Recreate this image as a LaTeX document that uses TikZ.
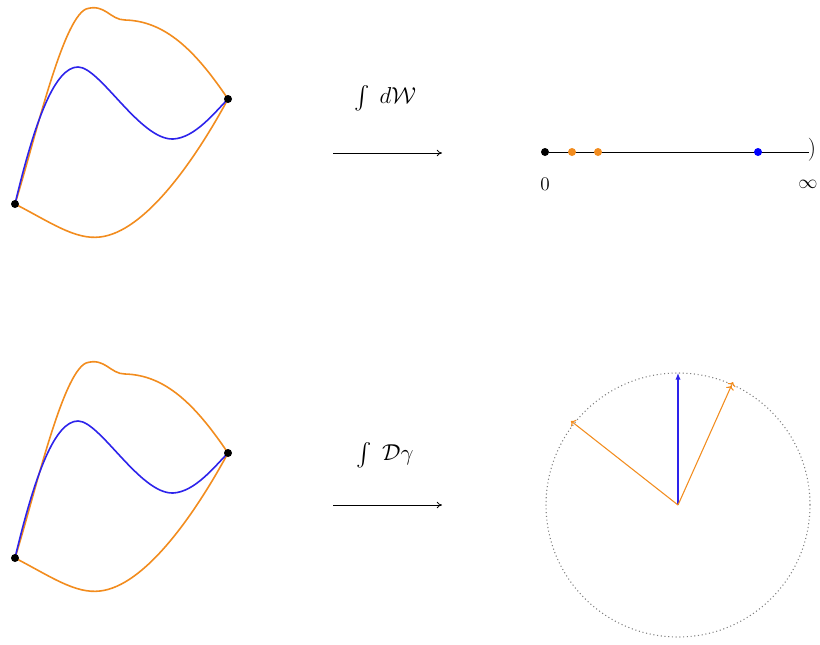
\documentclass[tikz,border=0pt]{standalone}
\usepackage{exscale}
\usetikzlibrary{arrows.meta}
\definecolor{orng}{RGB}{242,140,30}
\definecolor{blu}{RGB}{45,35,235}
\tikzset{
  opath/.style={orng, line width=1.2pt, line join=round},
  bpath/.style={blu, line width=1.2pt},
  dotn/.style={circle, fill=#1, inner sep=0pt, minimum size=6pt},
  maparrow/.style={-{To[length=4pt,width=5pt]}, line width=0.6pt},
  phasor/.style={line width=0.8pt},
  lbl/.style={font=\LARGE},
  nlbl/.style={font=\Large}
}
\begin{document}
\begin{tikzpicture}[x=0.75pt,y=-0.75pt]
\useasboundingbox (0,0) rectangle (820,644);
\foreach \dy/\nm in {0/t,354/b}{
  \begin{scope}[yshift=-\dy*0.75pt]
  \draw[opath] (15,204) .. controls (35,140) and (62,20) .. (86,9)
     .. controls (105,3) and (110,20) .. (125,20)
     .. controls (165,21) and (195,50) .. (228,99);
  \draw[opath] (15,204) .. controls (50,222) and (75,240) .. (100,237)
     .. controls (145,232) and (195,160) .. (228,99);
  \draw[bpath] (15,204) .. controls (35,120) and (55,67) .. (78,67)
     .. controls (100,67) and (140,140) .. (173,139)
     .. controls (195,138) and (215,112) .. (228,99);
  \node[dotn=black] (\nm A) at (15,204) {};
  \node[dotn=black] (\nm B) at (228,99) {};
  \end{scope}
}
% maps
\coordinate (m1s) at (333,153);
\coordinate (m1e) at (442,153);
\draw[maparrow] (m1s) -- (m1e);
\node[lbl] (l1) at (385,98) {$\int\; d\mathcal{W}$};
\coordinate (m2s) at (333,505);
\coordinate (m2e) at (442,505);
\draw[maparrow] (m2s) -- (m2e);
\node[lbl] (l2) at (385,455) {$\int\; \mathcal{D}\gamma$};
% number line
\node[dotn=black] (z) at (545,152) {};
\coordinate (inf) at (809,152);
\draw[line width=0.6pt] (z) -- (inf);
\node[font=\LARGE, inner sep=0pt] (par) at (812,150) {)};
\node[dotn=orng] (o1) at (572,152) {};
\node[dotn=orng] (o2) at (598,152) {};
\node[dotn=blue] (bb) at (758,152) {};
\node[nlbl] (zl) at (545,184) {$0$};
\node[nlbl, inner sep=1pt] (il) at (808,184) {$\infty$};
% circle
\coordinate (c) at (678,505);
\draw[gray, dotted, line width=0.8pt] (c) circle[radius=99pt];
\coordinate (pb) at (678,373);
\coordinate (po1) at (733,382);
\coordinate (po2) at (571,421);
\draw[phasor, blu, -{Latex[length=5pt,width=4pt]}] (c) -- (pb);
\draw[phasor, orng, -{To[length=3pt]}] (c) -- (po2);
\draw[phasor, orng, -{To[length=3pt]To[length=3pt]}] (c) -- (po1);
\end{tikzpicture}
\end{document}
